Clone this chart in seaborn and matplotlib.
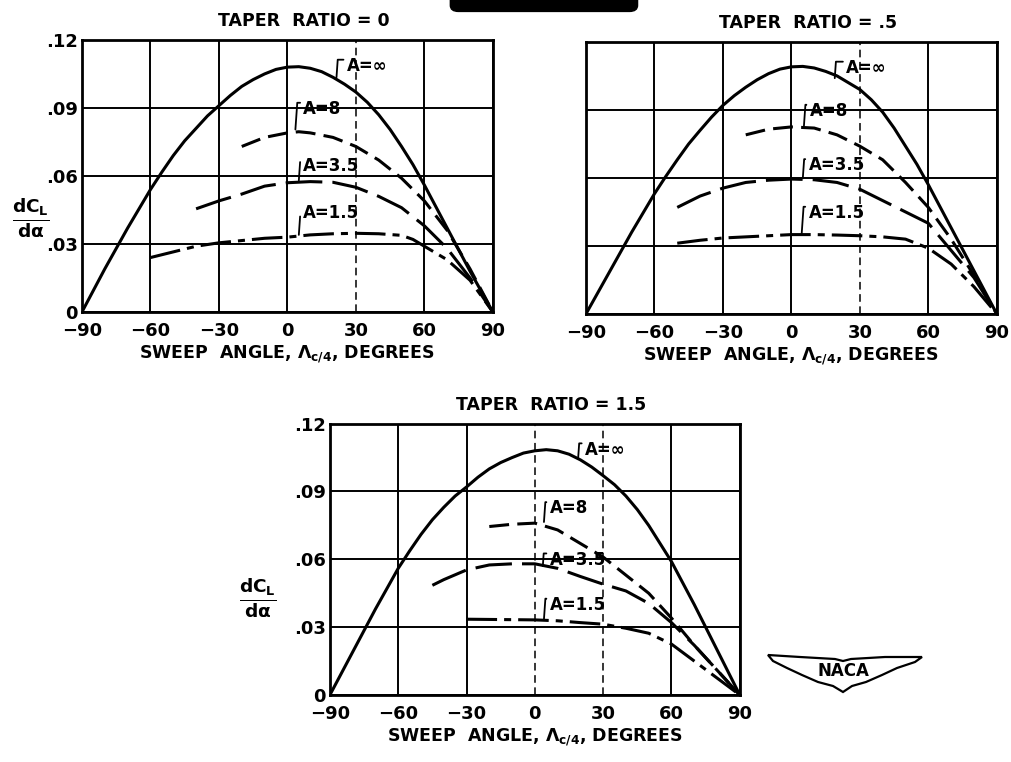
import pandas as pd
import matplotlib.pyplot as plt
import matplotlib.transforms as mtransforms
import seaborn as sns
from matplotlib.patches import Polygon, FancyBboxPatch

sns.set_theme(style="white")
plt.rcParams['font.family'] = ['DejaVu Sans']
plt.rcParams['font.weight'] = 'bold'
plt.rcParams['text.color'] = 'black'
plt.rcParams['axes.labelcolor'] = 'black'
plt.rcParams['xtick.color'] = 'black'
plt.rcParams['ytick.color'] = 'black'
plt.rcParams['mathtext.fontset'] = 'custom'
plt.rcParams['mathtext.rm'] = 'DejaVu Sans:bold'
plt.rcParams['mathtext.it'] = 'DejaVu Sans:bold'
plt.rcParams['mathtext.bf'] = 'DejaVu Sans:bold'
plt.rcParams['mathtext.sf'] = 'DejaVu Sans:bold'

# ---- data (sweep angle in degrees, dCL/dalpha) ----
sweep_inf = [-90, -85, -80, -75, -70, -65, -60, -55, -50, -45, -40, -35, -30, -25, -20, -15, -10, -5,
             0, 5, 10, 15, 20, 25, 30, 35, 40, 45, 50, 55, 60, 65, 70, 75, 80, 85, 90]

# taper ratio 0
slope_t0_inf = [0, 0.0095, 0.019, 0.028, 0.037, 0.0455, 0.054, 0.0617, 0.069, 0.0755, 0.081, 0.0865,
                0.091, 0.0955, 0.0995, 0.1025, 0.105, 0.107, 0.108, 0.1082, 0.1075, 0.106, 0.1035,
                0.1005, 0.097, 0.0925, 0.087, 0.0805, 0.073, 0.065, 0.056, 0.0465, 0.037, 0.0275,
                0.018, 0.009, 0]
sweep_t0_8 = [-20, -10, 0, 5, 10, 20, 30, 40, 50, 60, 70, 80, 90]
slope_t0_8 = [0.073, 0.077, 0.079, 0.0795, 0.079, 0.077, 0.073, 0.067, 0.059, 0.049, 0.036, 0.019, 0]
sweep_t0_35 = [-40, -30, -20, -10, 0, 10, 20, 30, 40, 50, 60, 70, 80, 90]
slope_t0_35 = [0.0455, 0.049, 0.052, 0.0555, 0.057, 0.0575, 0.0572, 0.055, 0.051, 0.046, 0.038, 0.028, 0.015, 0]
sweep_t0_15 = [-60, -50, -40, -30, -20, -10, 0, 10, 20, 30, 40, 50, 55, 60, 65, 70, 80, 90]
slope_t0_15 = [0.024, 0.0265, 0.029, 0.0305, 0.0315, 0.0325, 0.033, 0.034, 0.0345, 0.0347, 0.0345,
               0.0338, 0.032, 0.029, 0.026, 0.023, 0.014, 0]

# taper ratio .5
slope_t5_inf = [0, 0.009, 0.018, 0.027, 0.036, 0.0445, 0.053, 0.0607, 0.068, 0.075, 0.081, 0.0868,
                0.092, 0.0963, 0.100, 0.1033, 0.106, 0.108, 0.109, 0.1092, 0.1085, 0.107, 0.105,
                0.102, 0.099, 0.0945, 0.089, 0.082, 0.074, 0.066, 0.057, 0.0475, 0.038, 0.0285,
                0.019, 0.0095, 0]
sweep_t5_8 = [-20, -10, 0, 10, 20, 30, 40, 50, 60, 70, 80, 90]
slope_t5_8 = [0.079, 0.0815, 0.0825, 0.082, 0.079, 0.074, 0.068, 0.058, 0.047, 0.033, 0.017, 0]
sweep_t5_35 = [-50, -40, -30, -20, -10, 0, 10, 20, 30, 40, 50, 60, 70, 80, 90]
slope_t5_35 = [0.047, 0.052, 0.0555, 0.058, 0.059, 0.0595, 0.0592, 0.058, 0.055, 0.050, 0.045, 0.040,
               0.028, 0.016, 0]
sweep_t5_15 = [-50, -40, -30, -20, -10, 0, 10, 20, 30, 40, 50, 60, 70, 80, 90]
slope_t5_15 = [0.0312, 0.0325, 0.0335, 0.034, 0.0345, 0.035, 0.035, 0.0348, 0.0345, 0.034, 0.033,
               0.029, 0.022, 0.012, 0]

# taper ratio 1.5
slope_t15_inf = [0, 0.0095, 0.019, 0.0285, 0.038, 0.047, 0.056, 0.0637, 0.071, 0.0775, 0.083, 0.088,
                 0.092, 0.0963, 0.100, 0.1028, 0.105, 0.107, 0.108, 0.1085, 0.108, 0.1065, 0.104,
                 0.1008, 0.097, 0.093, 0.088, 0.082, 0.075, 0.067, 0.059, 0.0495, 0.040, 0.030,
                 0.020, 0.010, 0]
sweep_t15_8 = [-20, -10, 0, 10, 20, 30, 40, 50, 60, 70, 80, 90]
slope_t15_8 = [0.0745, 0.0755, 0.076, 0.073, 0.067, 0.061, 0.053, 0.045, 0.034, 0.022, 0.011, 0]
sweep_t15_35 = [-45, -40, -30, -20, -10, 0, 10, 20, 30, 40, 50, 60, 70, 80, 90]
slope_t15_35 = [0.0485, 0.051, 0.0553, 0.0575, 0.058, 0.058, 0.056, 0.0524, 0.049, 0.046, 0.0405,
                0.032, 0.022, 0.011, 0]
sweep_t15_15 = [-30, -20, -10, 0, 10, 20, 30, 40, 50, 60, 70, 80, 90]
slope_t15_15 = [0.0335, 0.0334, 0.0333, 0.0332, 0.0328, 0.032, 0.0313, 0.0295, 0.0273, 0.0225,
                0.015, 0.0075, 0]

aspect_ratios = ['∞', '8', '3.5', '1.5']
x_ticks = [-90, -60, -30, 0, 30, 60, 90]
x_tick_labels = ['\u221290', '\u221260', '\u221230', '0', '30', '60', '90']
y_ticks = [0, 0.03, 0.06, 0.09, 0.12]
y_tick_labels = ['0', '.03', '.06', '.09', '.12']

panels = [
    {'title': 'TAPER  RATIO = 0',
     'curves': [(sweep_inf, slope_t0_inf), (sweep_t0_8, slope_t0_8),
                (sweep_t0_35, slope_t0_35), (sweep_t0_15, slope_t0_15)],
     # (text x, text y, leader x, leader y)
     'labels': [(26, 0.1085, 21.5, 0.1035), (7, 0.0895, 3.5, 0.0805),
                (7, 0.0645, 5, 0.058), (7, 0.0435, 5, 0.034)],
     'rect': [0.081, 0.5906, 0.406, 0.357], 'ylabels': True, 'dashed_grid': [30],
     'ylab_pos': (-0.125, 0.345)},
    {'title': 'TAPER  RATIO = .5',
     'curves': [(sweep_inf, slope_t5_inf), (sweep_t5_8, slope_t5_8),
                (sweep_t5_35, slope_t5_35), (sweep_t5_15, slope_t5_15)],
     'labels': [(24, 0.1085, 19, 0.104), (8, 0.0895, 5.5, 0.083),
                (7.5, 0.0655, 5, 0.0598), (7.5, 0.0445, 4.5, 0.0352)],
     'rect': [0.579, 0.588, 0.406, 0.357], 'ylabels': False, 'dashed_grid': [30],
     'ylab_pos': None},
    {'title': 'TAPER  RATIO = 1.5',
     'curves': [(sweep_inf, slope_t15_inf), (sweep_t15_8, slope_t15_8),
                (sweep_t15_35, slope_t15_35), (sweep_t15_15, slope_t15_15)],
     'labels': [(22, 0.1085, 19, 0.1045), (6.5, 0.0825, 4, 0.0765),
                (6.5, 0.0598, 3.5, 0.057), (6.5, 0.0398, 4, 0.0335)],
     'rect': [0.326, 0.088, 0.405, 0.356], 'ylabels': True, 'dashed_grid': [0, 30],
     'ylab_pos': (-0.175, 0.358)},
]

dash_map = {'∞': '', '8': (6.5, 2.7), '3.5': (12, 3.3), '1.5': (10, 2.3, 2.3, 2.3)}

fig = plt.figure(figsize=(10.12, 7.62), dpi=100)

for p in panels:
    ax = fig.add_axes(p['rect'])
    frames = []
    for a, (xs, ys) in zip(aspect_ratios, p['curves']):
        frames.append(pd.DataFrame({'sweep': xs, 'slope': ys, 'A': a}))
    df = pd.concat(frames, ignore_index=True)

    sns.lineplot(data=df, x='sweep', y='slope', style='A', dashes=dash_map,
                 color='black', linewidth=2.2, estimator=None, sort=False,
                 legend=False, ax=ax)

    ax.set_xlim(-90, 90)
    ax.set_ylim(0, 0.12)
    ax.set_xticks(x_ticks)
    ax.set_xticklabels(x_tick_labels)
    ax.set_yticks(y_ticks)
    if p['ylabels']:
        ax.set_yticklabels(y_tick_labels)
        # the "0" sits a little above the corner, clear of "-90"
        zero = ax.get_yticklabels()[0]
        zero.set_transform(zero.get_transform() +
                           mtransforms.ScaledTranslation(0, 4 / 72, fig.dpi_scale_trans))
    else:
        ax.set_yticklabels([])
    ax.tick_params(length=0, labelsize=13, pad=3)
    ax.tick_params(axis='x', pad=7)
    ax.grid(True, color='black', linewidth=1.4)
    for tick, gl in zip(x_ticks, ax.get_xgridlines()):
        if tick in p['dashed_grid']:
            gl.set_linestyle((0, (5, 3)))
            gl.set_linewidth(1.1)
    for s in ax.spines.values():
        s.set_color('black')
        s.set_linewidth(2)

    ax.set_title(p['title'], fontsize=12.5, fontweight='bold', x=0.54, pad=10)
    ax.set_xlabel(r'SWEEP  ANGLE, $\Lambda_{c/4}$, DEGREES', fontsize=12.5,
                  fontweight='bold', labelpad=3)
    if p['ylab_pos'] is not None:
        ax.set_ylabel(r'$\frac{dC_L}{d\alpha}$', fontsize=19, rotation=0,
                      va='center', ha='center')
        ax.yaxis.set_label_coords(*p['ylab_pos'])
    else:
        ax.set_ylabel('')

    # "A = ..." tags with a small hooked leader down to the curve
    for a, (tx, ty, px, py) in zip(aspect_ratios, p['labels']):
        ax.annotate('A=' + a, xy=(px, py), xytext=(tx, ty), ha='left', va='center',
                    fontsize=12, fontweight='bold',
                    arrowprops=dict(arrowstyle='-', color='black', lw=1.3,
                                    shrinkA=0, shrinkB=0, relpos=(0, 0.85),
                                    connectionstyle='angle,angleA=180,angleB=86,rad=0'))

# black tab at the top of the page
fig.add_artist(FancyBboxPatch((0.445, 0.985), 0.185, 0.03,
                              boxstyle='round,pad=0,rounding_size=0.008',
                              transform=fig.transFigure, color='black'))

# NACA wing logo
W, H = 1012.0, 762.0
wing_px = [(768, 655), (800, 657), (835, 659), (843, 661), (851, 659), (885, 657), (922, 657),
           (915, 662), (897, 668), (882, 675), (866, 682), (852, 686), (843, 692),
           (833, 686), (818, 682), (802, 675), (787, 668), (773, 661)]
wing = Polygon([(x / W, 1 - y / H) for x, y in wing_px], closed=True,
               transform=fig.transFigure, facecolor='white', edgecolor='black', lw=1.6)
fig.add_artist(wing)
fig.text(843 / W, 1 - 671 / H, 'NACA', ha='center', va='center', fontsize=12,
         fontweight='bold')

fig.savefig('out.png', dpi=100)
